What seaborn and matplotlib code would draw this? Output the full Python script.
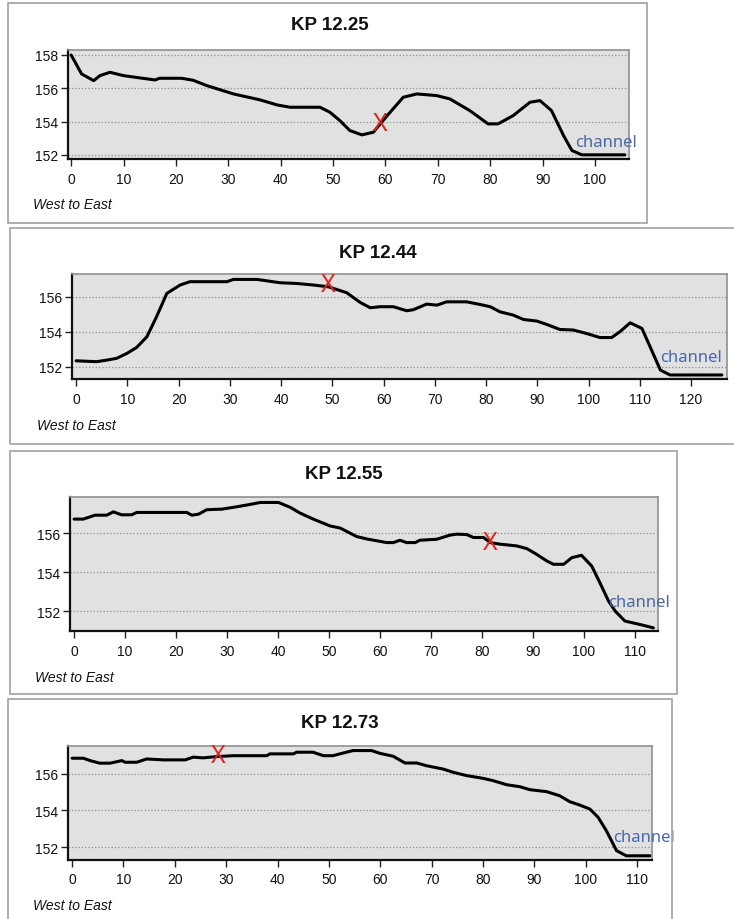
import numpy as np
import pandas as pd
import matplotlib
matplotlib.use('Agg')
import matplotlib.pyplot as plt
import seaborn as sns
from matplotlib.patches import Rectangle

# profile data (distance west->east, elevation)
titles = ['KP 12.25', 'KP 12.44', 'KP 12.55', 'KP 12.73']

dist_1225 = [0, 2.0, 4.3, 5.5, 7.4, 10.0, 13.2, 16.0, 16.9, 21.1, 23.3, 25.9, 31.0, 36.1,
             39.3, 41.8, 47.5, 49.4, 51.3, 53.2, 55.5, 57.7, 59.0, 60.9, 63.4, 66.0,
             69.8, 72.3, 76.1, 79.6, 81.5, 84.4, 87.6, 89.5, 91.7, 94.0, 95.6, 97.5, 105.7]
elev_1225 = [158.0, 156.86, 156.46, 156.76, 156.96, 156.76, 156.62, 156.5, 156.6, 156.6,
             156.48, 156.16, 155.66, 155.3, 155.0, 154.86, 154.86, 154.56, 154.06, 153.46,
             153.2, 153.36, 153.86, 154.56, 155.46, 155.66, 155.56, 155.36, 154.66, 153.86,
             153.86, 154.36, 155.16, 155.26, 154.66, 153.16, 152.26, 152.0, 152.0]

dist_1244 = [0, 4.0, 6.0, 7.9, 9.9, 11.8, 13.8, 15.7, 17.7, 20.3, 22.2, 25.5, 29.4, 30.7,
             35.3, 37.2, 39.8, 43.0, 46.3, 49.2, 52.8, 55.4, 57.4, 59.3, 61.9, 64.5, 65.8,
             68.4, 70.4, 72.3, 76.2, 78.8, 80.8, 82.7, 85.3, 87.3, 89.9, 91.8, 94.4, 97.0,
             99.6, 102.2, 104.5, 106.1, 108.1, 110.4, 112.0, 114.0, 115.9, 126.0]
elev_1244 = [152.34, 152.29, 152.38, 152.48, 152.76, 153.1, 153.71, 154.86, 156.19, 156.67,
             156.86, 156.86, 156.86, 156.99, 156.99, 156.91, 156.8, 156.76, 156.67, 156.57,
             156.23, 155.68, 155.37, 155.43, 155.43, 155.2, 155.26, 155.58, 155.52, 155.71,
             155.71, 155.56, 155.43, 155.14, 154.95, 154.7, 154.61, 154.42, 154.13, 154.1,
             153.9, 153.67, 153.67, 154.0, 154.51, 154.19, 153.14, 151.81, 151.53, 151.53]

dist_1255 = [0, 1.8, 4.1, 6.4, 7.7, 9.3, 11.3, 12.3, 22.1, 23.1, 24.4, 26.0, 29.0, 31.2,
             33.9, 36.5, 40.1, 42.4, 44.3, 46.9, 50.2, 52.2, 55.4, 57.5, 61.3, 62.6, 63.9,
             65.2, 66.9, 67.8, 71.1, 73.7, 75.0, 77.0, 78.3, 80.3, 81.6, 83.5, 86.8, 88.8,
             90.7, 92.7, 94.0, 96.0, 97.6, 99.5, 101.5, 103.1, 104.8, 106.1, 108.0, 111.0, 113.6]
elev_1255 = [156.72, 156.72, 156.92, 156.92, 157.09, 156.94, 156.94, 157.06, 157.06, 156.92,
             156.97, 157.2, 157.23, 157.32, 157.44, 157.57, 157.57, 157.32, 157.03, 156.72,
             156.37, 156.26, 155.83, 155.7, 155.52, 155.52, 155.64, 155.52, 155.52, 155.64,
             155.69, 155.9, 155.95, 155.93, 155.78, 155.78, 155.52, 155.44, 155.35, 155.21,
             154.92, 154.58, 154.41, 154.41, 154.75, 154.87, 154.32, 153.47, 152.53, 152.02,
             151.51, 151.33, 151.16]

dist_1273 = [0, 2.2, 3.5, 5.4, 7.4, 9.7, 10.3, 12.6, 14.5, 17.8, 22.0, 23.6, 25.5, 28.1,
             31.4, 37.9, 38.5, 43.1, 43.7, 46.9, 48.9, 50.8, 53.4, 54.7, 58.3, 59.9, 62.5,
             64.8, 67.1, 69.0, 72.2, 74.2, 76.8, 80.0, 82.0, 84.6, 87.2, 89.1, 92.4, 94.9,
             96.9, 98.8, 100.8, 102.4, 104.0, 106.0, 107.9, 112.5]
elev_1273 = [156.86, 156.86, 156.73, 156.59, 156.59, 156.73, 156.64, 156.64, 156.82, 156.77,
             156.77, 156.92, 156.88, 156.95, 157.0, 157.0, 157.1, 157.1, 157.19, 157.19,
             157.0, 157.0, 157.19, 157.28, 157.28, 157.13, 156.97, 156.6, 156.6, 156.45,
             156.27, 156.09, 155.91, 155.76, 155.63, 155.41, 155.3, 155.14, 155.03, 154.81,
             154.48, 154.3, 154.08, 153.63, 152.9, 151.8, 151.52, 151.52]

# red X = crossing location, and where the "channel" label sits
cross_x = [59.0, 49.2, 81.6, 28.5]
cross_y = [153.9, 156.7, 155.5, 157.0]
chan_x = [96.2, 114.0, 104.8, 105.3]
chan_y = [152.8, 152.55, 152.46, 152.53]

profiles = [(dist_1225, elev_1225), (dist_1244, elev_1244),
            (dist_1255, elev_1255), (dist_1273, elev_1273)]
xtick_sets = [np.arange(0, 101, 10), np.arange(0, 121, 10),
              np.arange(0, 111, 10), np.arange(0, 111, 10)]
ytick_sets = [[152, 154, 156, 158], [152, 154, 156], [152, 154, 156], [152, 154, 156]]

W, H = 734, 920

# layout in pixels: axes (l, r, t, b), limits, outer box, title pos, footer pos
axes_px = [(68, 629, 51, 160), (72, 727, 275, 380), (70, 658, 498, 632), (68, 652, 747, 861)]
xlims = [(-0.6, 106.5), (-0.8, 127.0), (-0.8, 114.5), (-0.8, 112.9)]
ylims = [(151.75, 158.3), (151.3, 157.3), (151.0, 157.85), (151.29, 157.53)]
boxes = [(8, 4, 647, 224), (10, 229, 740, 445), (10, 452, 677, 695), (8, 700, 672, 930)]
title_pos = [(330, 26), (378, 253), (344, 475), (340, 724)]
foot_pos = [(33, 205), (37, 426), (35, 678), (33, 906)]

sns.set_style('white')
plt.rcParams['font.family'] = ['Liberation Sans', 'DejaVu Sans']

fig = plt.figure(figsize=(W / 100, H / 100), dpi=100)


def fx(px):
    return px / W


def fy(py):
    return 1 - py / H


for i in range(4):
    x0, y0, x1, y1 = boxes[i]
    fig.add_artist(Rectangle((fx(x0), fy(y1)), (x1 - x0) / W, (y1 - y0) / H,
                             transform=fig.transFigure, fill=False,
                             edgecolor='#a8a8a8', lw=1.3))

    l, r, t, b = axes_px[i]
    ax = fig.add_axes([fx(l), fy(b), (r - l) / W, (b - t) / H])
    ax.set_facecolor('#e1e1e1')

    d, e = profiles[i]
    df = pd.DataFrame({'dist': d, 'elev': e})
    sns.lineplot(data=df, x='dist', y='elev', color='black', lw=2.2,
                 estimator=None, sort=False, ax=ax)

    ax.text(cross_x[i], cross_y[i], 'X', color='#e3241d', fontsize=18,
            family='Noto Sans', ha='center', va='center', zorder=5)
    ax.text(chan_x[i], chan_y[i], 'channel', color='#4a68a6', fontsize=12,
            family='Noto Sans', ha='left', va='center', clip_on=False, zorder=5)

    ax.set_xlim(*xlims[i])
    ax.set_ylim(*ylims[i])
    ax.set_xticks(xtick_sets[i])
    ax.set_yticks(ytick_sets[i])
    ax.set_xlabel('')
    ax.set_ylabel('')
    ax.yaxis.grid(True, ls=':', color='#8c8c8c', lw=0.9)
    ax.xaxis.grid(False)
    ax.set_axisbelow(True)
    for side in ['left', 'bottom']:
        ax.spines[side].set_color('#111111')
        ax.spines[side].set_linewidth(1.6)
    for side in ['top', 'right']:
        ax.spines[side].set_color('#909090')
        ax.spines[side].set_linewidth(1.2)
    ax.tick_params(axis='both', direction='out', length=5, width=1,
                   bottom=True, left=True, top=False, right=False,
                   color='#222222', labelsize=10, labelcolor='#111111')
    ax.tick_params(axis='x', pad=4)
    ax.tick_params(axis='y', pad=2)

    tx, ty = title_pos[i]
    fig.text(fx(tx), fy(ty), titles[i], ha='center', va='center',
             fontsize=13.5, fontweight='bold', color='#111111')
    ftx, fty = foot_pos[i]
    fig.text(fx(ftx), fy(fty), 'West to East', ha='left', va='center',
             fontsize=10, style='italic', color='#111111')

fig.savefig('out.png', dpi=100)
